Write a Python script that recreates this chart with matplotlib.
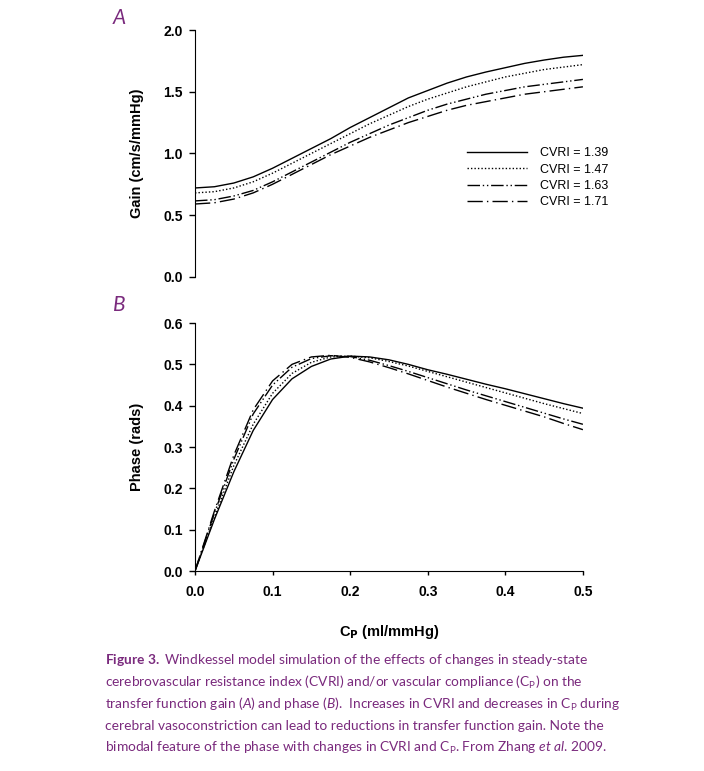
import matplotlib
matplotlib.use('Agg')
import matplotlib.pyplot as plt

# x values (Cp, ml/mmHg)
cp = [0.0, 0.025, 0.05, 0.075, 0.1, 0.125, 0.15, 0.175, 0.2, 0.225, 0.25,
      0.275, 0.3, 0.325, 0.35, 0.375, 0.4, 0.425, 0.45, 0.475, 0.5]

cvri_labels = ['CVRI = 1.39', 'CVRI = 1.47', 'CVRI = 1.63', 'CVRI = 1.71']

# Panel A - gain
gain_139 = [0.72, 0.73, 0.76, 0.81, 0.88, 0.96, 1.04, 1.12, 1.21, 1.29, 1.37,
            1.45, 1.51, 1.57, 1.62, 1.66, 1.695, 1.73, 1.757, 1.78, 1.795]
gain_147 = [0.68, 0.69, 0.72, 0.77, 0.84, 0.92, 1.00, 1.08, 1.16, 1.24, 1.31,
            1.38, 1.44, 1.49, 1.54, 1.58, 1.62, 1.65, 1.68, 1.70, 1.72]
gain_163 = [0.615, 0.625, 0.655, 0.70, 0.77, 0.85, 0.93, 1.01, 1.09, 1.16, 1.23,
            1.29, 1.35, 1.40, 1.44, 1.48, 1.51, 1.54, 1.56, 1.58, 1.60]
gain_171 = [0.59, 0.60, 0.63, 0.68, 0.75, 0.83, 0.91, 0.99, 1.06, 1.13, 1.19,
            1.25, 1.30, 1.35, 1.39, 1.42, 1.45, 1.48, 1.50, 1.52, 1.54]

# Panel B - phase
phase_139 = [0.0, 0.125, 0.24, 0.34, 0.415, 0.465, 0.495, 0.513, 0.52, 0.518, 0.511,
             0.50, 0.487, 0.476, 0.464, 0.452, 0.441, 0.429, 0.417, 0.405, 0.394]
phase_147 = [0.0, 0.13, 0.255, 0.355, 0.43, 0.478, 0.505, 0.518, 0.52, 0.516, 0.507,
             0.496, 0.483, 0.47, 0.457, 0.444, 0.431, 0.418, 0.405, 0.393, 0.381]
phase_163 = [0.0, 0.14, 0.27, 0.38, 0.45, 0.493, 0.514, 0.521, 0.519, 0.51, 0.497,
             0.483, 0.468, 0.453, 0.438, 0.424, 0.41, 0.396, 0.382, 0.368, 0.355]
phase_171 = [0.0, 0.145, 0.28, 0.39, 0.46, 0.50, 0.518, 0.522, 0.517, 0.506, 0.492,
             0.477, 0.461, 0.445, 0.43, 0.415, 0.401, 0.387, 0.373, 0.357, 0.342]

gains = [gain_139, gain_147, gain_163, gain_171]
phases = [phase_139, phase_147, phase_163, phase_171]
styles = ['-', (0, (1, 1.5)), (0, (9, 2, 1, 2, 1, 2)), (0, (11, 3, 1, 3))]

purple = '#7a2a7d'
plt.rcParams['font.family'] = ['Liberation Sans', 'DejaVu Sans']

fig = plt.figure(figsize=(7.04, 7.71), dpi=100)
axA = fig.add_axes([0.277, 0.641, 0.551, 0.320])
axB = fig.add_axes([0.277, 0.2594, 0.551, 0.3216])

# Gain panel
for g, ls, lab in zip(gains, styles, cvri_labels):
    axA.plot(cp, g, color='black', linestyle=ls, linewidth=1.0, label=lab)
axA.set_xlim(0, 0.5)
axA.set_ylim(0, 2.0)
axA.set_yticks([0.0, 0.5, 1.0, 1.5, 2.0])
axA.set_yticklabels(['0.0', '0.5', '1.0', '1.5', '2.0'], fontweight='bold', fontsize=10)
axA.set_xticks([])
for s in ['top', 'right', 'bottom']:
    axA.spines[s].set_visible(False)
axA.tick_params(axis='y', direction='out', length=4, width=1, pad=5)
axA.set_ylabel('Gain (cm/s/mmHg)', fontweight='bold', fontsize=10.5, labelpad=14)
axA.legend(loc='upper left', bbox_to_anchor=(0.70, 0.525), frameon=False,
           fontsize=9, handlelength=4.8, handletextpad=1.1, labelspacing=0.35,
           borderpad=0, borderaxespad=0)

# Phase panel
for p, ls in zip(phases, styles):
    axB.plot(cp, p, color='black', linestyle=ls, linewidth=1.0)
axB.set_xlim(0, 0.5)
axB.set_ylim(0, 0.6)
axB.set_yticks([0.0, 0.1, 0.2, 0.3, 0.4, 0.5, 0.6])
axB.set_yticklabels(['0.0', '0.1', '0.2', '0.3', '0.4', '0.5', '0.6'], fontweight='bold', fontsize=10)
axB.set_xticks([0.0, 0.1, 0.2, 0.3, 0.4, 0.5])
axB.set_xticklabels(['0.0', '0.1', '0.2', '0.3', '0.4', '0.5'], fontweight='bold', fontsize=10)
for s in ['top', 'right']:
    axB.spines[s].set_visible(False)
axB.tick_params(axis='y', direction='out', length=4, width=1, pad=5)
axB.tick_params(axis='x', direction='out', length=3, width=1, pad=7)
axB.set_ylabel('Phase (rads)', fontweight='bold', fontsize=10.5, labelpad=14)
axB.set_xlabel(r'C$_\mathbf{P}$ (ml/mmHg)', fontweight='bold', fontsize=10.5, labelpad=17)

# Panel letters
fig.text(0.160, 0.977, 'A', color=purple, fontsize=15, style='italic', family='Lato',
         ha='left', va='center')
fig.text(0.160, 0.604, 'B', color=purple, fontsize=15, style='italic', family='Lato',
         ha='left', va='center')

# Caption
plt.rcParams['mathtext.fontset'] = 'custom'
plt.rcParams['mathtext.rm'] = 'Lato'
plt.rcParams['mathtext.it'] = 'Lato:italic'
plt.rcParams['mathtext.bf'] = 'Lato:bold'
caption = [
    r'$\mathbf{Figure\ 3.}$ Windkessel model simulation of the effects of changes in steady-state',
    r'cerebrovascular resistance index (CVRI) and/or vascular compliance (C$_\mathrm{P}$) on the',
    r'transfer function gain ($\mathit{A}$) and phase ($\mathit{B}$).  Increases in CVRI and decreases in C$_\mathrm{P}$ during',
    r'cerebral vasoconstriction can lead to reductions in transfer function gain. Note the',
    r'bimodal feature of the phase with changes in CVRI and C$_\mathrm{P}$. From Zhang $\mathit{et\ al}$. 2009.',
]
y0 = 660
for i, line in enumerate(caption):
    fig.text(105 / 704, 1 - (y0 + 22 * i) / 771, line, color=purple, fontsize=9.9,
             family='Lato', ha='left', va='center')

fig.savefig('out.png', dpi=100)
